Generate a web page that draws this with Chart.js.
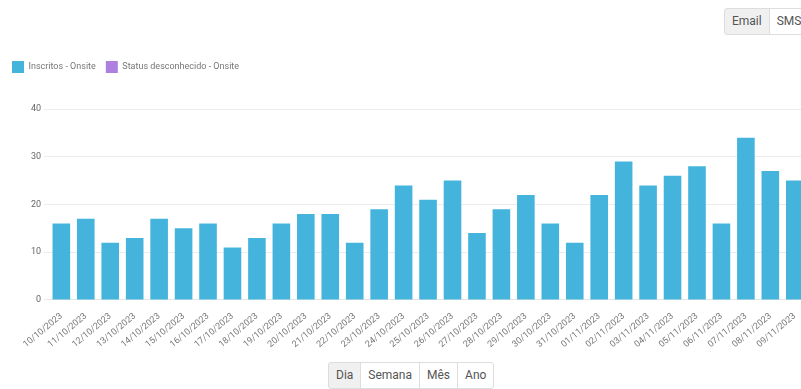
<!DOCTYPE html>
<html>
<head>
<meta charset="utf-8">
<script src="https://cdn.jsdelivr.net/npm/chart.js@4"></script>
<style>
    html, body { margin: 0; padding: 0; background: #fff; overflow: hidden; width: 801px; height: 389px; }
    body { position: relative; font-family: Roboto, "Helvetica Neue", Arial, sans-serif; }
    .btn-group { position: absolute; display: flex; }
    .btn-group button {
        font-family: Roboto, Arial, sans-serif; font-size: 12px; color: #555;
        background: #fff; border: 1px solid #ddd; margin-left: -1px;
        padding: 0 7px; height: 27px; line-height: 25px;
    }
    .btn-group button:first-child { border-radius: 3px 0 0 3px; margin-left: 0; }
    .btn-group button:last-child { border-radius: 0 3px 3px 0; }
    .btn-group button.active { background: #f0f0f0; }
    #canal { top: 8px; left: 724px; }
    #periodo { top: 362px; left: 328px; }
    #wrap { position: absolute; left: 0; top: 50px; width: 807px; height: 303px; }
</style>
</head>
<body>
<div class="btn-group" id="canal">
    <button class="active">Email</button><button>SMS</button>
</div>
<div id="wrap"><canvas id="grafica"></canvas></div>
<div class="btn-group" id="periodo">
    <button class="active">Dia</button><button>Semana</button><button>Mês</button><button>Ano</button>
</div>
<script>
// Daily signups, 10/10/2023 - 09/11/2023
const dias = [
    "10/10/2023", "11/10/2023", "12/10/2023", "13/10/2023", "14/10/2023", "15/10/2023",
    "16/10/2023", "17/10/2023", "18/10/2023", "19/10/2023", "20/10/2023", "21/10/2023",
    "22/10/2023", "23/10/2023", "24/10/2023", "25/10/2023", "26/10/2023", "27/10/2023",
    "28/10/2023", "29/10/2023", "30/10/2023", "31/10/2023", "01/11/2023", "02/11/2023",
    "03/11/2023", "04/11/2023", "05/11/2023", "06/11/2023", "07/11/2023", "08/11/2023",
    "09/11/2023"
];
const inscritos = [16, 17, 12, 13, 17, 15, 16, 11, 13, 16, 18, 18, 12, 19, 24, 21, 25, 14, 19, 22, 16, 12, 22, 29, 24, 26, 28, 16, 34, 27, 25];
const desconhecido = [];
const yTicks = [0, 10, 20, 30, 40];

Chart.defaults.font.family = 'Roboto, "Helvetica Neue", Arial, sans-serif';
Chart.defaults.color = '#666';

// extra room under the legend
const legendGap = {
    id: 'legendGap',
    beforeInit(chart) {
        const fit = chart.legend.fit;
        chart.legend.fit = function () {
            fit.call(this);
            this.height += 26;
        };
    }
};

new Chart(document.getElementById('grafica'), {
    type: 'bar',
    data: {
        labels: dias,
        datasets: [
            {
                label: 'Inscritos - Onsite',
                data: inscritos,
                backgroundColor: '#44b4dd',
                borderWidth: 0,
                grouped: false
            },
            {
                label: 'Status desconhecido - Onsite',
                data: desconhecido,
                backgroundColor: '#ad80e0',
                borderWidth: 0,
                grouped: false
            }
        ]
    },
    options: {
        responsive: true,
        maintainAspectRatio: false,
        animation: false,
        layout: { padding: { left: 2, top: 1, right: 0, bottom: 0 } },
        plugins: {
            legend: {
                position: 'top',
                align: 'start',
                labels: {
                    boxWidth: 12,
                    boxHeight: 12,
                    padding: 10,
                    font: { size: 9 },
                    color: '#777'
                }
            },
            tooltip: { enabled: false }
        },
        scales: {
            y: {
                min: 0,
                max: 40,
                afterBuildTicks: axis => { axis.ticks = yTicks.map(v => ({ value: v })); },
                afterFit: axis => { axis.width += 26; },
                ticks: { font: { size: 9 }, color: '#666', padding: 3 },
                grid: { color: '#ececec', tickLength: 5 },
                border: { display: false }
            },
            x: {
                ticks: { font: { size: 9 }, color: '#777', maxRotation: 40, minRotation: 40, autoSkip: false },
                grid: { display: false },
                border: { color: '#e4e4e4' }
            }
        }
    },
    plugins: [legendGap]
});
</script>
</body>
</html>
